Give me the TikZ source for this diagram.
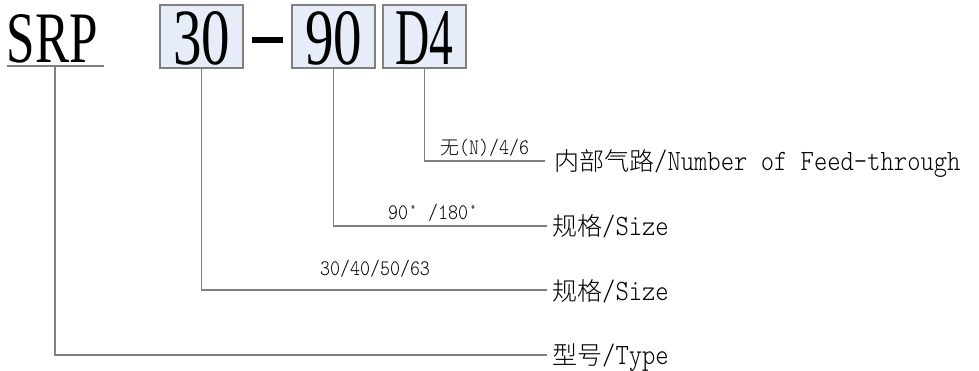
\documentclass[tikz,border=0pt]{standalone}
\usepackage{fontspec}
\usepackage{graphicx}
\newfontfamily\cjkf{Noto Sans CJK SC}[UprightFont=* Light]
\newfontfamily\latf{lmmonolt10-regular.otf}[FakeStretch=0.86]
\newfontfamily\bigf{Liberation Serif}
\newcommand{\mylc}[1]{{\fontsize{25}{28}\selectfont\cjkf #1}}
\newcommand{\myll}[1]{{\fontsize{29.5}{30}\selectfont\latf #1}}
\newcommand{\mysc}[1]{{\fontsize{19}{22}\selectfont\cjkf #1}}
\newcommand{\mysl}[1]{{\fontsize{22.1}{24}\selectfont\latf #1}}
\definecolor{boxfill}{RGB}{230,236,248}
\definecolor{linegray}{RGB}{128,128,128}
\tikzset{
  codebox/.style={draw=linegray, line width=1.4pt, fill=boxfill, inner sep=0pt, minimum width=83pt, minimum height=63pt},
  bigtxt/.style={inner sep=0pt, anchor=base, text=black},
  lbl/.style={inner sep=0pt, anchor=base west, text=black},
  conn/.style={draw=linegray, line width=1.1pt},
}
\begin{document}
\begin{tikzpicture}[x=1pt, y=-1pt]
\useasboundingbox (0,0) rectangle (979,371);
% code boxes
\node[codebox] (b30) at (201.5,36.5) {};
\node[codebox] (b90) at (333.5,36.5) {};
\node[codebox] (bD4) at (424.5,36.5) {};
\node[fill=black, inner sep=0pt, minimum width=31pt, minimum height=5.5pt] (dash) at (267.5,40) {};
% big texts
\node[bigtxt] (tSRP) at (52.5,63) {\resizebox{91pt}{48pt}{\bigf SRP}};
\node[bigtxt] (t30) at (201.5,65) {\resizebox{57pt}{53pt}{\bigf 30}};
\node[bigtxt] (t90) at (333.5,65) {\resizebox{57pt}{53pt}{\bigf 90}};
\node[bigtxt] (tD4) at (424.5,65) {\resizebox{58pt}{53pt}{\bigf D4}};
% SRP underline
\coordinate (ulA) at (7,66);
\coordinate (ulB) at (104,66);
\coordinate (ulM) at (55,66);
\draw[conn] (ulA) -- (ulB);
% connector ends
\coordinate (eD4) at (545,161);
\coordinate (e90) at (547,226);
\coordinate (e30) at (547,290);
\coordinate (eSRP) at (547,355);
\draw[conn] (bD4.south) |- (eD4);
\draw[conn] (b90.south) |- (e90);
\draw[conn] (b30.south) |- (e30);
\draw[conn] (ulM) |- (eSRP);
% option labels
\node[lbl] (oD4) at (440,155) {\mysc{无}\mysl{(N)/4/6}};
\node[lbl] (o90) at (388,220) {\mysl{90° /180°}};
\node[lbl] (o30) at (320,275) {\mysl{30/40/50/63}};
% description labels
\node[lbl] (dD4) at (554,171) {\mylc{内部气路}\myll{/Number of Feed-through}};
\node[lbl] (d90) at (552,236) {\mylc{规格}\myll{/Size}};
\node[lbl] (d30) at (552,300) {\mylc{规格}\myll{/Size}};
\node[lbl] (dSRP) at (552,364) {\mylc{型号}\myll{/Type}};
\end{tikzpicture}
\end{document}
